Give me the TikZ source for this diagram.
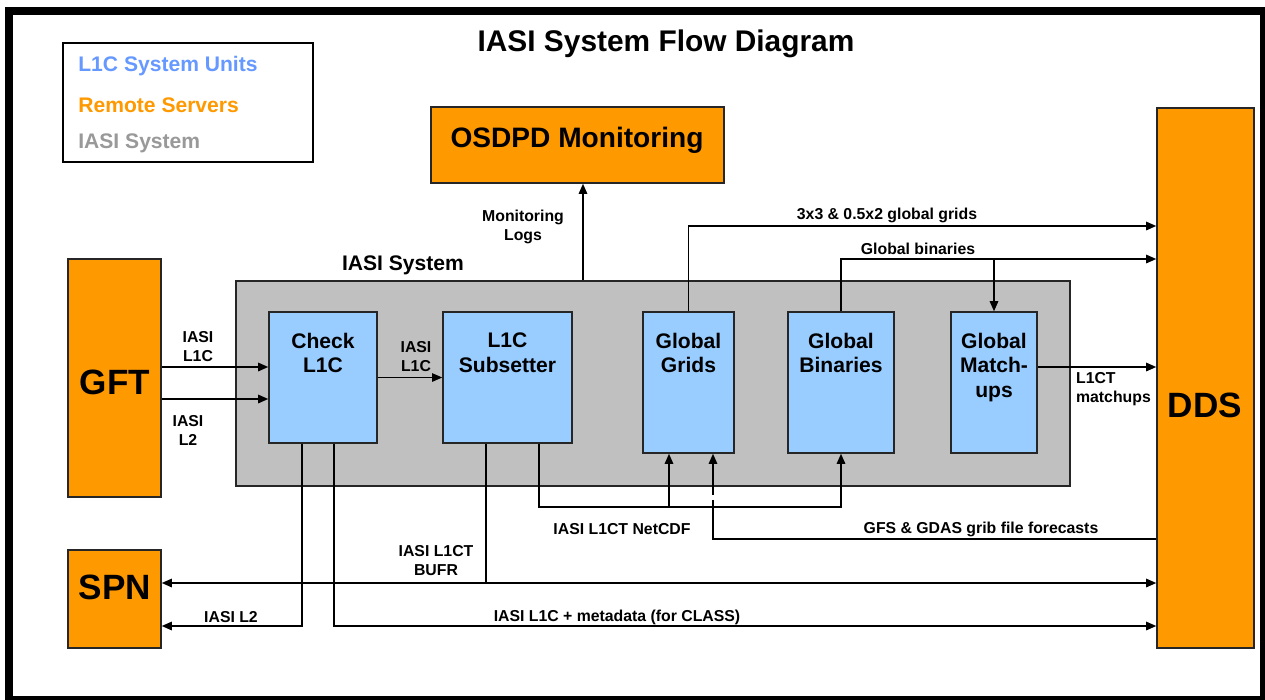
\documentclass[tikz,border=0pt]{standalone}
\usepackage{fontspec}
\setmainfont{Liberation Sans}
\usepackage{tikz}
\usetikzlibrary{arrows.meta,calc,fit,positioning}
\definecolor{remote}{HTML}{FF9900}
\definecolor{unitblue}{HTML}{99CCFF}
\definecolor{sysgray}{HTML}{C0C0C0}
\definecolor{legblue}{HTML}{6699FF}
\definecolor{leggray}{HTML}{999999}
\tikzset{%
	server/.style   = {draw=black!85, line width=0.8pt, fill=remote, inner sep=0pt},
	unit/.style     = {draw=black!85, line width=0.8pt, fill=unitblue, inner sep=0pt},
	sysbox/.style   = {draw=black!85, line width=0.8pt, fill=sysgray, inner sep=0pt},
	bigtxt/.style   = {font=\bfseries\fontsize{20}{24}\selectfont, inner sep=0pt},
	unittxt/.style  = {font=\bfseries\fontsize{12}{14}\selectfont, align=center, inner sep=1pt},
	lbl/.style      = {font=\bfseries\fontsize{9}{10.8}\selectfont, align=center, inner sep=1pt},
	legtxt/.style   = {font=\bfseries\fontsize{12}{14}\selectfont, anchor=west, inner sep=0pt},
	line/.style     = {line width=1pt},
	flow/.style     = {line width=1pt, -{Triangle[length=5.8pt,width=4.8pt]}},
	flowboth/.style = {line width=1pt, {Triangle[length=5.8pt,width=4.8pt]}-{Triangle[length=5.8pt,width=4.8pt]}},
}
\begin{document}
\begin{tikzpicture}[x=0.02cm,y=-0.02cm]
	\useasboundingbox (0,0) rectangle (1265,700);
	% frame
	\fill[black] (5,7) rectangle (1265,700);
	\fill[white] (13,15) rectangle (1260,696);
	
	\node[font=\bfseries\fontsize{17}{20}\selectfont] (title) at (666,44) {IASI System Flow Diagram};
	
	% legend
	\node[draw, line width=0.8pt, inner sep=0pt, fit={(63,43) (313,162)}] (legend) {};
	\node[legtxt, text=legblue] (legunit) at (78,66) {L1C System Units};
	\node[legtxt, text=remote] (legremote) at (78,105) {Remote Servers};
	\node[legtxt, text=leggray] (legiasi) at (78,143) {IASI System};
	
	% remote servers
	\node[server, fit={(431,107) (724,183)}] (osdpd) {};
	\node[font=\bfseries\fontsize{16}{19}\selectfont] (osdpdtxt) at (577,140) {OSDPD Monitoring};
	\node[server, fit={(68,259) (161,497)}] (gft) {};
	\node[bigtxt] (gfttxt) at (115,382) {GFT};
	\node[server, fit={(68,550) (161,648)}] (spn) {};
	\node[bigtxt] (spntxt) at (115,587) {SPN};
	\node[server, fit={(1157,108) (1254,648)}] (dds) {};
	\node[bigtxt] (ddstxt) at (1205,405) {DDS};
	
	% IASI system
	\node[sysbox, fit={(236,281) (1070,486)}] (iasi) {};
	\node[font=\bfseries\fontsize{12}{14}\selectfont] (iasitxt) at (403,265) {IASI System};
	
	\node[unit, fit={(269,312) (377,443)}] (check) {};
	\node[unit, fit={(443,312) (572,443)}] (subset) {};
	\node[unit, fit={(643,312) (734,453)}] (grids) {};
	\node[unit, fit={(788,312) (894,453)}] (binaries) {};
	\node[unit, fit={(951,312) (1037,453)}] (matchups) {};
	\node[unittxt, below=11pt of check.north] (checktxt) {Check\\L1C};
	\node[unittxt, below=11pt of subset.north] (subsettxt) {L1C\\Subsetter};
	\node[unittxt, below=11pt of grids.north] (gridstxt) {Global\\Grids};
	\node[unittxt, below=11pt of binaries.north] (binariestxt) {Global\\Binaries};
	\node[unittxt, below=11pt of matchups.north] (matchupstxt) {Global\\Match-\\ups};
	
	% connectors
	\draw[flow] (iasi.north -| 583,0) -- (osdpd.south -| 583,0);
	\node[lbl] (monlbl) at (523,227) {Monitoring\\Logs};
	
	\draw[flow] (gft.east |- 0,367) -- (check.west |- 0,367);
	\node[lbl] (gftl1c) at (198,347) {IASI\\L1C};
	\draw[flow] (gft.east |- 0,399) -- (check.west |- 0,399);
	\node[lbl] (gftl2) at (188,430) {IASI\\L2};
	
	\draw[flow, line width=0.7pt] (check.east) -- (subset.west);
	\node[lbl] (chkl1c) at (416,357) {IASI\\L1C};
	
	\draw[flow] (grids.north) |- (dds.west |- 0,226);
	\node[lbl] (gridlbl) at (887,215) {3x3 \& 0.5x2 global grids};
	\draw[flow] (binaries.north) |- (dds.west |- 0,259);
	\draw[flow] (matchups.north |- 0,259) -- (matchups.north);
	\node[lbl] (binlbl) at (918,249) {Global binaries};
	
	\draw[flow] (matchups.east |- 0,367) -- (dds.west |- 0,367);
	\node[lbl, align=left, anchor=west] (matchlbl) at (1074,389) {L1CT\\matchups};
	
	\draw[flow] (subset.south -| 539,0) -- (539,507) -| (binaries.south);
	\draw[flow] (669,507) -- (grids.south -| 669,0);
	\node[lbl] (netcdflbl) at (622,529) {IASI L1CT NetCDF};
	
	\draw[flow] (dds.west |- 0,539) -| (grids.south -| 713,0);
	\draw[white, line width=1.6pt] (713,495) -- (713,500);
	\node[lbl] (gfslbl) at (981,529) {GFS \& GDAS grib file forecasts};
	
	\draw[flowboth] (spn.east |- 0,583) -- (dds.west |- 0,583);
	\draw[line] (subset.south -| 486,0) -- (486,583);
	\node[lbl] (bufrlbl) at (436,561) {IASI L1CT\\BUFR};
	
	\draw[flow] (check.south -| 302,0) |- (spn.east |- 0,626);
	\node[lbl] (spnl2) at (231,617) {IASI L2};
	\draw[flow] (check.south -| 334,0) |- (dds.west |- 0,626);
	\node[lbl] (classlbl) at (617,617) {IASI L1C + metadata (for CLASS)};
\end{tikzpicture}
\end{document}
